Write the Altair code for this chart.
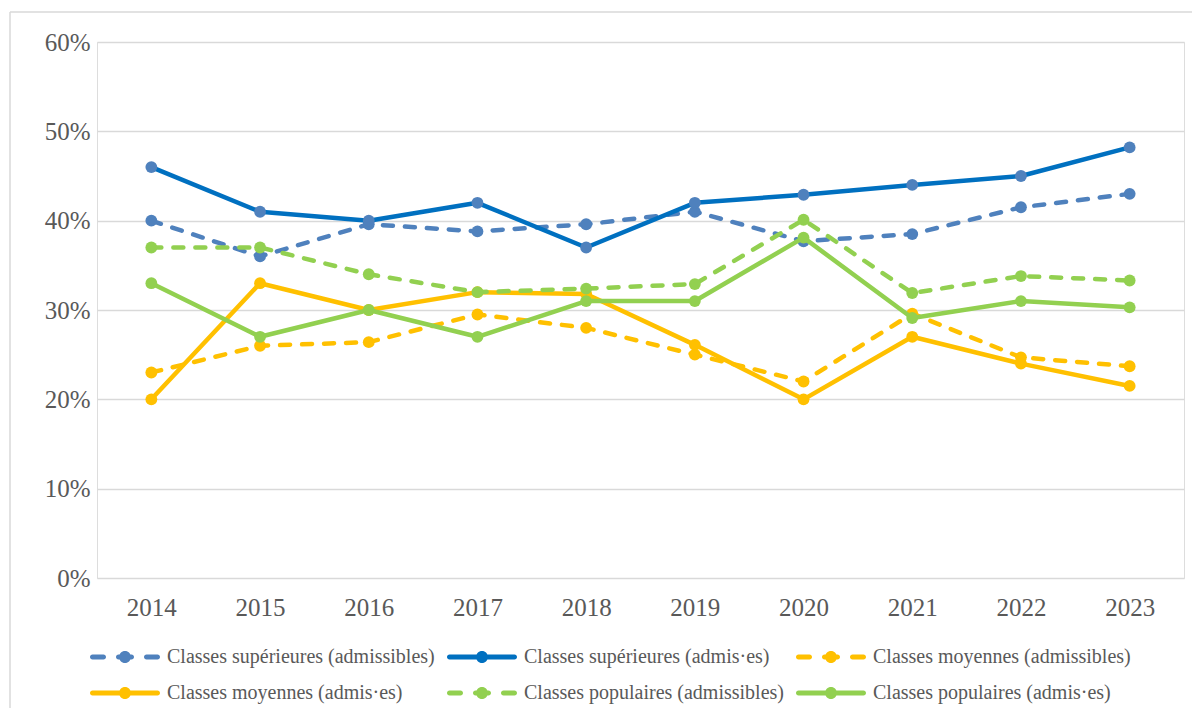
import altair as alt
import pandas as pd

years = ["2014", "2015", "2016", "2017", "2018", "2019", "2020", "2021", "2022", "2023"]

series_names = [
    "Classes supérieures (admissibles)",
    "Classes supérieures (admis·es)",
    "Classes moyennes (admissibles)",
    "Classes moyennes (admis·es)",
    "Classes populaires (admissibles)",
    "Classes populaires (admis·es)",
]

sup_admissibles = [40.0, 36.0, 39.6, 38.8, 39.6, 41.0, 37.7, 38.5, 41.5, 43.0]
sup_admis = [46.0, 41.0, 40.0, 42.0, 37.0, 42.0, 42.9, 44.0, 45.0, 48.2]
moy_admissibles = [23.0, 26.0, 26.4, 29.5, 28.0, 25.0, 22.0, 29.6, 24.7, 23.7]
moy_admis = [20.0, 33.0, 30.0, 32.0, 31.8, 26.1, 20.0, 27.0, 24.0, 21.5]
pop_admissibles = [37.0, 37.0, 34.0, 32.0, 32.4, 32.9, 40.1, 31.9, 33.8, 33.3]
pop_admis = [33.0, 27.0, 30.0, 27.0, 31.0, 31.0, 38.1, 29.1, 31.0, 30.3]

all_values = [sup_admissibles, sup_admis, moy_admissibles, moy_admis, pop_admissibles, pop_admis]

line_colors = ["#4F81BD", "#0070C0", "#FFC000", "#FFC000", "#92D050", "#92D050"]
marker_colors = ["#4F81BD", "#4F81BD", "#FFC000", "#FFC000", "#92D050", "#92D050"]
dashed = [True, False, True, False, True, False]

rows = []
for name, vals in zip(series_names, all_values):
    for y, v in zip(years, vals):
        rows.append({"year": y, "series": name, "value": v / 100.0})
df = pd.DataFrame(rows)

# legend symbol paths: symbol unit = 10px (symbolSize 400), symbol centred at 10px,
# so the path runs from -1 (left edge of entry) to 6 (70px wide)
def stadium(x1, x2, h):
    return (f"M{x1 + h:.3f},{-h:.3f} L{x2 - h:.3f},{-h:.3f} "
            f"A{h:.3f},{h:.3f} 0 0,1 {x2 - h:.3f},{h:.3f} "
            f"L{x1 + h:.3f},{h:.3f} A{h:.3f},{h:.3f} 0 0,1 {x1 + h:.3f},{-h:.3f} Z ")

def circle(cx, r):
    return (f"M{cx + r:.3f},0 A{r:.3f},{r:.3f} 0 1,1 {cx - r:.3f},0 "
            f"A{r:.3f},{r:.3f} 0 1,1 {cx + r:.3f},0 Z")

H = 0.25
R = 0.6
CX = 2.5
solid_path = stadium(-1, 6, H) + circle(CX, R)
dash_path = stadium(-1, 0.6, H) + stadium(1.6, 3.4, H) + stadium(4.4, 6, H) + circle(CX, R)
legend_shapes = [dash_path if d else solid_path for d in dashed]
legend_fills = ["#4F81BD", "#0070C0", "#FFC000", "#FFC000", "#92D050", "#92D050"]

W, Hh = 1087, 536
FONT = "Liberation Serif"
TXT = "#595959"

x_enc = alt.X("year:O", sort=years, scale=alt.Scale(domain=years, type="point", padding=0.5),
              axis=alt.Axis(title=None, labelAngle=0, grid=False, domain=False, ticks=False,
                            tickSize=0, labelPadding=17, labelFontSize=25, labelFont=FONT,
                            labelColor=TXT))
y_enc = alt.Y("value:Q", scale=alt.Scale(domain=[0, 0.6], nice=False),
              axis=alt.Axis(title=None, format=".0%", values=[0, 0.1, 0.2, 0.3, 0.4, 0.5, 0.6],
                            domain=False, ticks=False, tickSize=0, labelPadding=7,
                            labelFontSize=25, labelFont=FONT, labelColor=TXT,
                            gridColor="#D9D9D9", gridWidth=1.5))

base = alt.Chart(df)
layers = []
for i, name in enumerate(series_names):
    sub = base.transform_filter(alt.datum.series == name)
    line_kwargs = dict(color=line_colors[i], strokeWidth=4.5, strokeCap="round", strokeJoin="round")
    if dashed[i]:
        line_kwargs["strokeDash"] = [10, 12]
    layers.append(sub.mark_line(**line_kwargs).encode(x=x_enc, y=y_enc))
    layers.append(sub.mark_point(filled=True, opacity=1, size=140, color=marker_colors[i],
                                 strokeWidth=0).encode(x=x_enc, y=y_enc))

legend = alt.Legend(title=None, orient="none", legendX=-7, legendY=605, columns=3,
                    direction="horizontal", symbolSize=400, symbolStrokeWidth=0,
                    labelFont=FONT, labelFontSize=20, labelColor=TXT, labelLimit=500,
                    labelOffset=57, columnPadding=12, rowPadding=16, padding=0,
                    symbolOpacity=1)

legend_layer = base.transform_filter("false").mark_point(filled=True, opacity=1).encode(
    x=x_enc, y=y_enc,
    fill=alt.Fill("series:N", scale=alt.Scale(domain=series_names, range=legend_fills), legend=legend),
    shape=alt.Shape("series:N", scale=alt.Scale(domain=series_names, range=legend_shapes), legend=legend),
)

frame_df = pd.DataFrame({"k": [0]})
frame_left = alt.Chart(frame_df).mark_rule(color="#D9D9D9", strokeWidth=1.5).encode(
    x=alt.value(-87), y=alt.value(-30), y2=alt.value(700))
frame_top = alt.Chart(frame_df).mark_rule(color="#D9D9D9", strokeWidth=1.5).encode(
    x=alt.value(-87), x2=alt.value(1120), y=alt.value(-30))

chart = alt.layer(frame_left, frame_top, *layers, legend_layer).properties(
    width=W, height=Hh,
    autosize=alt.AutoSizeParams(type="none"),
    padding={"left": 89, "top": 34, "right": 8, "bottom": 130},
).configure_view(stroke=None).configure(background="white")

chart.save("out.html", embed_options={"renderer": "svg", "actions": False})
